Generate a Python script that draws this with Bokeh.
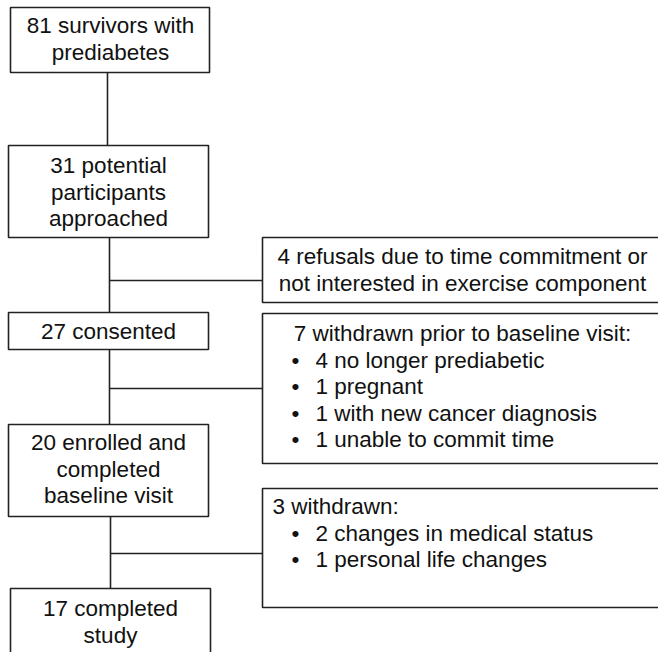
from bokeh.plotting import figure
from bokeh.models import Range1d, ColumnDataSource
from bokeh.core.properties import value
from bokeh.embed import file_html
from bokeh.resources import INLINE

# ---------------- data ----------------
stage_counts = [81, 31, 27, 20, 17]
stage_text = [
    ["survivors with", "prediabetes"],
    ["potential", "participants", "approached"],
    ["consented"],
    ["enrolled and", "completed", "baseline visit"],
    ["completed", "study"],
]

refusal_count = 4
refusal_text = ["refusals due to time commitment or", "not interested in exercise component"]

withdraw1_count = 7
withdraw1_header = "withdrawn prior to baseline visit:"
withdraw1_counts = [4, 1, 1, 1]
withdraw1_reasons = ["no longer prediabetic", "pregnant", "with new cancer diagnosis", "unable to commit time"]

withdraw2_count = 3
withdraw2_header = "withdrawn:"
withdraw2_counts = [2, 1]
withdraw2_reasons = ["changes in medical status", "personal life changes"]

# ---------------- layout (screen-like coordinates) ----------------
stage_left = [10, 8, 8, 8, 10]
stage_right = [209, 208, 208, 208, 210]
stage_top = [7, 145, 312, 424, 588]
stage_bottom = [72, 237, 349, 516, 700]
SHIFT = -8
stage_first_baseline = [33, 173, 339, 450, 616]
stage_text_x = [110, 108, 108, 108, 110]

side_left = [262, 262, 262]
side_right = [700, 700, 700]
side_top = [237, 313, 488]
side_bottom = [302, 463, 607]

vert_x = [107, 109, 109, 110]
branch_y = [280, 388, 553]

PITCH = 26.6
FONT = value("Liberation Sans")
FSIZE = "22.5px"
LINE_COL = "#222222"
TEXT_COL = "#111111"

p = figure(width=658, height=652, output_backend="svg", toolbar_location=None,
           x_range=Range1d(0, 658), y_range=Range1d(652, 0),
           min_border=0, outline_line_color=None, background_fill_color="white",
           border_fill_color="white")
p.axis.visible = False
p.xgrid.visible = False
p.ygrid.visible = False

# connectors
vx0, vy0, vx1, vy1 = [], [], [], []
for i in range(4):
    vx0.append(vert_x[i]); vx1.append(vert_x[i])
    vy0.append(stage_bottom[i]); vy1.append(stage_top[i + 1])
p.segment(x0=vx0, y0=vy0, x1=vx1, y1=vy1, line_color=LINE_COL, line_width=1.6)
hx0 = [vert_x[1], vert_x[2], vert_x[3]]
p.segment(x0=hx0, y0=branch_y, x1=side_left, y1=branch_y, line_color=LINE_COL, line_width=1.6)

# boxes
p.quad(left=stage_left, right=stage_right, top=stage_top, bottom=stage_bottom,
       fill_color="white", line_color=LINE_COL, line_width=1.6)
p.quad(left=side_left, right=side_right, top=side_top, bottom=side_bottom,
       fill_color="white", line_color=LINE_COL, line_width=1.6)

# centered text
cx, cy, ct = [], [], []
for i, (n, lines) in enumerate(zip(stage_counts, stage_text)):
    for j, ln in enumerate(lines):
        cx.append(stage_text_x[i])
        cy.append(stage_first_baseline[i] + SHIFT + j * PITCH)
        ct.append(f"{n} {ln}" if j == 0 else ln)
for j, ln in enumerate(refusal_text):
    cx.append(462)
    cy.append(264 + SHIFT + j * PITCH)
    ct.append(f"{refusal_count} {ln}" if j == 0 else ln)
cx.append(462); cy.append(341 + SHIFT); ct.append(f"{withdraw1_count} {withdraw1_header}")
p.text(x="x", y="y", text="t", source=ColumnDataSource(dict(x=cx, y=cy, t=ct)),
       text_font=FONT, text_font_size=FSIZE, text_align="center",
       text_baseline="alphabetic", text_color=TEXT_COL)

# left-aligned text
lx, ly, lt = [], [], []
lx.append(272); ly.append(514 + SHIFT); lt.append(f"{withdraw2_count} {withdraw2_header}")
for j, (n, r) in enumerate(zip(withdraw1_counts, withdraw1_reasons)):
    yb = 341 + SHIFT + (j + 1) * PITCH
    lx += [291, 315]; ly += [yb, yb]; lt += ["\u2022", f"{n} {r}"]
for j, (n, r) in enumerate(zip(withdraw2_counts, withdraw2_reasons)):
    yb = 514 + SHIFT + (j + 1) * PITCH
    lx += [291, 315]; ly += [yb, yb]; lt += ["\u2022", f"{n} {r}"]
p.text(x="x", y="y", text="t", source=ColumnDataSource(dict(x=lx, y=ly, t=lt)),
       text_font=FONT, text_font_size=FSIZE, text_align="left",
       text_baseline="alphabetic", text_color=TEXT_COL)

open("out.html", "w").write(file_html(p, INLINE))
